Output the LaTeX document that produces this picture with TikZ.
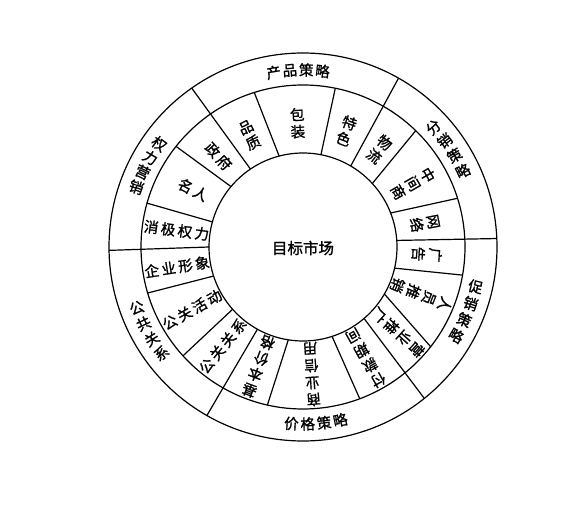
\documentclass[tikz,border=0pt]{standalone}
\usepackage{fontspec}
\setmainfont{Noto Sans CJK SC}[FakeBold=1.2]
\usetikzlibrary{calc}
\newcommand\myvitem[3]{% angle, radius, stacked text
  \node[ch, align=center, rotate=#1-90] at ($(C)+(#1:#2)$) {#3};}
\newcommand\myhitem[3]{% angle, radius, text
  \node[ch, rotate=#1-180] at ($(C)+(#1:#2)$) {#3};}
\newcommand\mygap{\hspace{2.5pt}}
\newcommand\myarclabel[5]{% centre angle, count, signed pitch, rotation offset, chars
  \foreach \c [count=\i] in {#5}{%
    \pgfmathsetmacro\myang{#1+((#2+1)/2-\i)*#3}
    \node[ch, rotate=\myang+#4] at ($(C)+(\myang:177)$) {\c};
  }}
\newcommand\mydiv[4]{\draw ($(C)+(#1:#2)$) -- ($(C)+(#3:#4)$);}
\begin{document}
\begin{tikzpicture}[x=1pt,y=1pt,line width=1.2pt,
  ch/.style={inner sep=0pt,font=\fontsize{14.5}{17}\selectfont}]
\useasboundingbox (0,0) rectangle (586,506);
\coordinate (C) at (303,259);
% circles
\draw (C) circle (194pt);
\draw (C) circle (162pt);
\draw (C) circle (94pt);
% dividers through both rings
\mydiv{124}{94}{125}{194}
\mydiv{59.5}{94}{60.5}{194}
\mydiv{4}{94}{2.5}{194}
\mydiv{-49.5}{94}{-51.3}{194}
\mydiv{-119}{94}{-119.7}{194}
\mydiv{180}{94}{181}{194}
% dividers of the middle ring
\mydiv{104.7}{94}{107.5}{162}
\mydiv{79}{94}{78.5}{162}
\mydiv{42.5}{94}{45.9}{162}
\mydiv{21.2}{94}{17.5}{162}
\mydiv{-13}{94}{-10}{162}
\mydiv{-30}{94}{-38}{162}
\mydiv{-72}{94}{-69.5}{162}
\mydiv{-99}{94}{-102.7}{162}
\mydiv{221.5}{94}{222.2}{162}
\mydiv{198}{94}{196.5}{162}
\mydiv{164.5}{94}{164.3}{162}
\mydiv{140}{94}{141.6}{162}
% centre
\node[font=\fontsize{15.5}{15.5}\selectfont] (centre) at (303,258) {目标市场};
% outer labels
\myarclabel{91.6}{4}{5.3}{-90}{产,品,策,略}
\myarclabel{34}{4}{5.7}{0}{分,销,策,略}
\myarclabel{-21.5}{4}{5.7}{0}{促,销,策,略}
\myarclabel{-85.8}{4}{-5.3}{90}{价,格,策,略}
\myarclabel{208.5}{4}{-5.6}{180}{公,共,关,系}
\myarclabel{152.3}{4}{-5.3}{180}{权,力,营,销}
% inner items
\myvitem{92.5}{124}{包\\装}
\myvitem{115.5}{124}{品\\质}
\myhitem{133}{124}{政\mygap 府}
\myhitem{152.5}{124}{名\mygap 人}
\myhitem{172.5}{127.5}{消\mygap 极\mygap 权\mygap 力}
\myhitem{189}{127.5}{企\mygap 业\mygap 形\mygap 象}
\myhitem{209.5}{127.5}{公\mygap 关\mygap 活\mygap 动}
\myhitem{231}{127.5}{公\mygap 关\mygap 关\mygap 系}
\myvitem{-110.5}{127.5}{基\\本\\价\\格}
\myvitem{-86}{127.5}{商\\业\\信\\用}
\myvitem{-60.5}{127.5}{付\\款\\期\\间}
\myvitem{-42}{127.5}{营\\业\\推\\广}
\myvitem{-22}{127.5}{人\\员\\推\\销}
\myvitem{-3.5}{124}{广\\告}
\myvitem{11}{124}{网\\络}
\myvitem{30}{127}{中\\间\\商}
\myvitem{52}{124}{物\\流}
\myvitem{69.5}{124}{特\\色}
\end{tikzpicture}
\end{document}
